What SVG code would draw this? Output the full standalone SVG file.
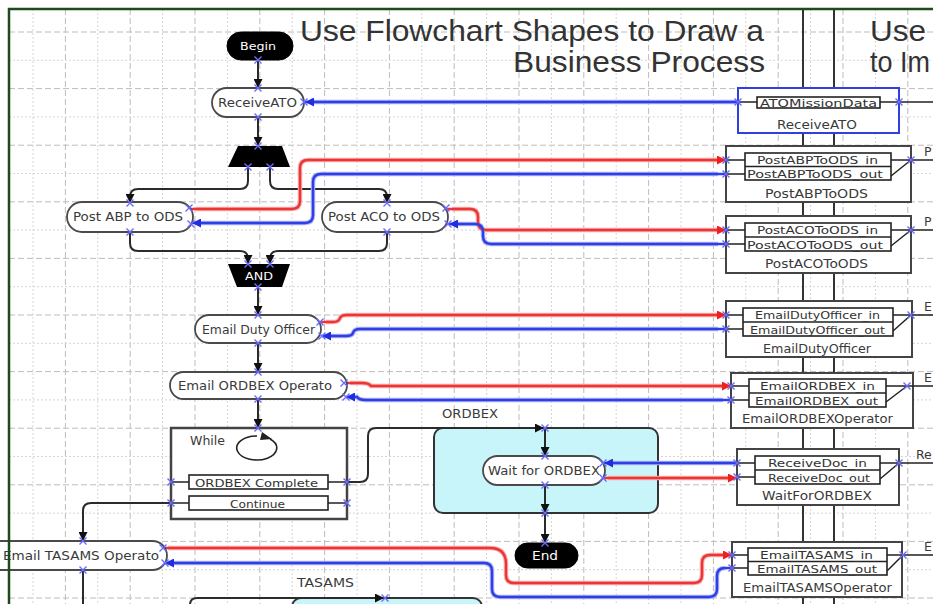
<svg xmlns="http://www.w3.org/2000/svg" xmlns:xlink="http://www.w3.org/1999/xlink" width="933" height="604" viewBox="0 0 933 604">
<style>
.gmaj{stroke:#bdbdbd;stroke-width:1;stroke-dasharray:6 3;fill:none}
.gmin{stroke:#d6d6d6;stroke-width:1;stroke-dasharray:2 2;fill:none}
.pill{fill:#fff;stroke:#4a4a4a;stroke-width:1.8}
.term{fill:#000;stroke:#000}
.t{font-family:"DejaVu Sans","Liberation Sans",sans-serif;font-size:12.5px;fill:#3a3a3a}
.tw{font-family:"DejaVu Sans","Liberation Sans",sans-serif;font-size:11px;fill:#fff}
.ts{font-family:"DejaVu Sans","Liberation Sans",sans-serif;font-size:11px;fill:#333}
.title{font-family:"Liberation Sans",Arial,sans-serif;font-size:30px;fill:#333}
.box{fill:#fff;stroke:#444;stroke-width:2}
.inner{fill:#fff;stroke:#222;stroke-width:1.6}
.wire{fill:none;stroke:#222;stroke-width:1.5}
.con{fill:none;stroke:#2b2b2b;stroke-width:2}
.red{fill:none;stroke:#ee3535;stroke-width:2.4}
.blue{fill:none;stroke:#2e3fe6;stroke-width:2.4}
.halo-r{fill:none;stroke:#f7b0b0;stroke-width:4.5}
.halo-b{fill:none;stroke:#b0b6f5;stroke-width:4.5}
.lane{stroke:#333;stroke-width:2}
</style>
<defs>
<marker id="ab" viewBox="0 0 10 10" refX="10" refY="5" markerWidth="9" markerHeight="9" markerUnits="userSpaceOnUse" orient="auto"><path d="M0,0 L10,5 L0,10 z" fill="#111"/></marker>
<marker id="ar" viewBox="0 0 10 10" refX="10" refY="5" markerWidth="10" markerHeight="9" markerUnits="userSpaceOnUse" orient="auto"><path d="M0,0 L10,5 L0,10 z" fill="#ee2020"/></marker>
<marker id="abl" viewBox="0 0 10 10" refX="10" refY="5" markerWidth="10" markerHeight="9" markerUnits="userSpaceOnUse" orient="auto"><path d="M0,0 L10,5 L0,10 z" fill="#1f2fe0"/></marker>
<g id="xm"><path d="M-3.5,-3.5 L3.5,3.5 M-3.5,3.5 L3.5,-3.5" stroke="#6b6bff" stroke-width="1.4" fill="none"/></g>
</defs>
<rect x="0" y="0" width="933" height="604" fill="#fff"/>
<g id="grid">
<path class="gmaj" d="M65.4 9V604M130.2 9V604M195 9V604M259.8 9V604M324.6 9V604M389.4 9V604M454.2 9V604M519 9V604M583.8 9V604M648.6 9V604M713.4 9V604M778.2 9V604M843 9V604M907.8 9V604M9 32H933M9 88.6H933M9 145.2H933M9 201.8H933M9 258.4H933M9 315H933M9 371.6H933M9 428.2H933M9 484.8H933M9 541.4H933M9 598H933"/>
<path class="gmin" d="M33 9V604M97.8 9V604M162.6 9V604M227.4 9V604M292.2 9V604M357 9V604M421.8 9V604M486.6 9V604M551.4 9V604M616.2 9V604M681 9V604M745.8 9V604M810.6 9V604M875.4 9V604M9 60.3H933M9 116.9H933M9 173.5H933M9 230.1H933M9 286.7H933M9 343.3H933M9 399.9H933M9 456.5H933M9 513.1H933M9 569.7H933"/>
</g>
<g id="lanes">
<line class="lane" x1="803" y1="9" x2="803" y2="604"/>
<line class="lane" x1="834" y1="9" x2="834" y2="604"/>
</g>
<g id="titles">
<text class="title" x="300" y="41" textLength="464" lengthAdjust="spacingAndGlyphs">Use Flowchart Shapes to Draw a</text>
<text class="title" x="513" y="72" textLength="252" lengthAdjust="spacingAndGlyphs">Business Process</text>
<text class="title" x="870" y="41" textLength="56" lengthAdjust="spacingAndGlyphs">Use</text>
<text class="title" x="870" y="72" textLength="60" lengthAdjust="spacingAndGlyphs">to Im</text>
</g>
<g id="node-cyan-ordbex"><rect x="434" y="428" width="224" height="85" rx="9" fill="#c8f5fa" stroke="#333" stroke-width="2"/></g>
<g id="node-cyan-tasams"><rect x="292" y="598" width="190" height="30" rx="9" fill="#c8f5fa" stroke="#333" stroke-width="2"/></g>
<g id="connectors">
<path class="con" d="M258 60V88" marker-end="url(#ab)"/>
<path class="con" d="M258 117V146" marker-end="url(#ab)"/>
<path class="con" d="M248 167V181Q248 189 240 189H138Q130 189 130 197V203" marker-end="url(#ab)"/>
<path class="con" d="M270 167V181Q270 189 278 189H379Q387 189 387 197V203" marker-end="url(#ab)"/>
<path class="con" d="M130 232V243Q130 251 138 251H240Q248 251 248 259V264" marker-end="url(#ab)"/>
<path class="con" d="M387 232V243Q387 251 379 251H278Q270 251 270 259V264" marker-end="url(#ab)"/>
<path class="con" d="M258 287V315" marker-end="url(#ab)"/>
<path class="con" d="M258 343V372" marker-end="url(#ab)"/>
<path class="con" d="M258 399V428" marker-end="url(#ab)"/>
<path class="con" d="M347 482H360Q368 482 368 474V436Q368 428 376 428H544" marker-end="url(#ab)"/>
<path class="con" d="M545 428V456" marker-end="url(#ab)"/>
<path class="con" d="M545 485V513" marker-end="url(#ab)"/>
<path class="con" d="M545 513V543" marker-end="url(#ab)"/>
<path class="con" d="M171 503H91Q83 503 83 511V541" marker-end="url(#ab)"/>
<path class="con" d="M83 570V604"/>
<path class="con" d="M190 604V605Q190 598 197 598H384" marker-end="url(#ab)"/>
<g id="halos">
<path class="halo-b" d="M738 102H312"/>
<path class="halo-r" d="M196 209H292Q300 209 300 201V168Q300 160 308 160H718"/>
<path class="halo-b" d="M718 174H321Q313 174 313 182V215Q313 223 305 223H200"/>
<path class="halo-r" d="M452 209H470Q478 209 478 217V222Q478 230 486 230H718"/>
<path class="halo-b" d="M718 244H491Q483 244 483 236V232Q483 224 475 224H457"/>
<path class="halo-r" d="M326 322H333Q339 322 340 318Q341 315 347 315H718"/>
<path class="halo-b" d="M718 329H360Q354 329 353 333Q352 336 346 336H330"/>
<path class="halo-r" d="M350 383H362Q369 383 371 386H723"/>
<path class="halo-b" d="M723 400H366Q359 400 357 397H354"/>
<path class="halo-b" d="M737 463H612"/>
<path class="halo-r" d="M608 478H729"/>
<path class="halo-r" d="M168 548H490Q506 548 506 564V575Q506 583 514 583H694Q702 583 702 575V563Q702 555 710 555H724"/>
<path class="halo-b" d="M724 568H725Q717 568 717 576V589Q717 597 709 597H500Q492 597 492 589V571Q492 563 484 563H173"/>
</g>
<path class="blue" d="M738 102H305" marker-end="url(#abl)"/>
<path class="red" d="M190 209H292Q300 209 300 201V168Q300 160 308 160H726" marker-end="url(#ar)"/>
<path class="blue" d="M726 174H321Q313 174 313 182V215Q313 223 305 223H192" marker-end="url(#abl)"/>
<path class="red" d="M447 209H470Q478 209 478 217V222Q478 230 486 230H726" marker-end="url(#ar)"/>
<path class="blue" d="M726 244H491Q483 244 483 236V232Q483 224 475 224H449" marker-end="url(#abl)"/>
<path class="red" d="M321 322H333Q339 322 340 318Q341 315 347 315H726" marker-end="url(#ar)"/>
<path class="blue" d="M726 329H360Q354 329 353 333Q352 336 346 336H322" marker-end="url(#abl)"/>
<path class="red" d="M345 383H362Q369 383 371 386H731" marker-end="url(#ar)"/>
<path class="blue" d="M731 400H366Q359 400 357 397H346" marker-end="url(#abl)"/>
<path class="blue" d="M737 463H604" marker-end="url(#abl)"/>
<path class="red" d="M604 478H737" marker-end="url(#ar)"/>
<path class="red" d="M164 548H490Q506 548 506 564V575Q506 583 514 583H694Q702 583 702 575V563Q702 555 710 555H732" marker-end="url(#ar)"/>
<path class="blue" d="M732 568H725Q717 568 717 576V589Q717 597 709 597H500Q492 597 492 589V571Q492 563 484 563H165" marker-end="url(#abl)"/>
</g>
<g id="node-begin"><rect class="term" x="227" y="32" width="66" height="28" rx="14"/><text class="tw" x="240" y="50" textLength="36" lengthAdjust="spacingAndGlyphs">Begin</text></g>
<g id="node-receiveato"><rect class="pill" x="212" y="88" width="92" height="29" rx="14.5"/><text class="t" x="218" y="107" textLength="79" lengthAdjust="spacingAndGlyphs">ReceiveATO</text></g>
<g id="node-fork"><path d="M238 146H282L290 167H228Z" fill="#000"/></g>
<g id="node-postabp"><rect class="pill" x="67" y="202" width="126" height="30" rx="15"/><text class="t" x="73" y="221" textLength="110" lengthAdjust="spacingAndGlyphs">Post ABP to ODS</text></g>
<g id="node-postaco"><rect class="pill" x="322" y="202" width="126" height="30" rx="15"/><text class="t" x="328" y="221" textLength="112" lengthAdjust="spacingAndGlyphs">Post ACO to ODS</text></g>
<g id="node-and"><path d="M228 264H290L282 287H237Z" fill="#000"/><text class="tw" x="245" y="280" textLength="28" lengthAdjust="spacingAndGlyphs">AND</text></g>
<g id="node-emaildutyofficer"><rect class="pill" x="195" y="315" width="126" height="28" rx="14"/><text class="t" x="202" y="334" textLength="113" lengthAdjust="spacingAndGlyphs">Email Duty Officer</text></g>
<g id="node-emailordbex"><rect class="pill" x="170" y="372" width="177" height="27" rx="13.5"/><text class="t" x="178" y="390" textLength="154" lengthAdjust="spacingAndGlyphs">Email ORDBEX Operato</text></g>
<g id="node-while">
<rect x="171" y="428" width="176" height="91" fill="#fff" stroke="#444" stroke-width="2.5"/>
<text class="t" x="190" y="445" textLength="35" lengthAdjust="spacingAndGlyphs">While</text>
<path d="M270 439A20 12 0 1 1 257 436" fill="none" stroke="#222" stroke-width="1.6"/>
<path d="M262 432L272 439L260 440Z" fill="#222"/>
<line class="wire" x1="171" y1="482" x2="189" y2="482"/><line class="wire" x1="328" y1="482" x2="347" y2="482"/>
<line class="wire" x1="171" y1="503" x2="189" y2="503"/><line class="wire" x1="328" y1="503" x2="347" y2="503"/>
<rect class="inner" x="189" y="475" width="139" height="14"/>
<text class="ts" x="195" y="486.5" textLength="123" lengthAdjust="spacingAndGlyphs">ORDBEX Complete</text>
<rect class="inner" x="189" y="496" width="139" height="14"/>
<text class="ts" x="230" y="507.5" textLength="55" lengthAdjust="spacingAndGlyphs">Continue</text>
</g>
<g id="label-ordbex"><text class="t" x="442" y="418" textLength="56" lengthAdjust="spacingAndGlyphs">ORDBEX</text></g>
<g id="node-waitfor"><rect class="pill" x="483" y="456" width="122" height="29" rx="14.5"/><text class="t" x="488" y="475" textLength="112" lengthAdjust="spacingAndGlyphs">Wait for ORDBEX</text></g>
<g id="node-end"><rect class="term" x="515" y="543" width="63" height="25" rx="12.5"/><text class="tw" x="532" y="560" textLength="26" lengthAdjust="spacingAndGlyphs" style="font-size:12px">End</text></g>
<g id="node-emailtasams"><rect class="pill" x="-40" y="541" width="207" height="29" rx="14.5"/><text class="t" x="3" y="560" textLength="156" lengthAdjust="spacingAndGlyphs">Email TASAMS Operato</text></g>
<g id="label-tasams"><text class="t" x="297" y="587" textLength="57" lengthAdjust="spacingAndGlyphs">TASAMS</text></g>

<g id="bpel-receiveato">
<rect x="738" y="88" width="161" height="45" fill="#fff" stroke="#2f3fe0" stroke-width="2"/>
<line class="wire" x1="738" y1="102" x2="757" y2="102"/><line class="wire" x1="880" y1="102" x2="933" y2="102"/>
<rect class="inner" x="757" y="97" width="123" height="11"/>
<text class="ts" x="760" y="106.5" textLength="117" lengthAdjust="spacingAndGlyphs" style="font-size:10.5px">ATOMissionData</text>
<text class="t" x="777" y="129" textLength="80" lengthAdjust="spacingAndGlyphs" style="font-size:12px">ReceiveATO</text>
</g>
<g id="bpel-postabp">
<rect class="box" x="726" y="146" width="185" height="56"/>
<path class="wire" d="M726 160H745M726 174H745M891 160H933M891 176L911 160"/>
<rect class="inner" x="745" y="153" width="146" height="27"/><line class="wire" x1="745" y1="166.5" x2="891" y2="166.5"/>
<text class="ts" x="757" y="164" textLength="121" lengthAdjust="spacingAndGlyphs">PostABPToODS_in</text>
<text class="ts" x="747" y="178" textLength="136" lengthAdjust="spacingAndGlyphs">PostABPToODS_out</text>
<text class="t" x="765" y="198" textLength="103" lengthAdjust="spacingAndGlyphs" style="font-size:12px">PostABPToODS</text>
</g>
<g id="bpel-postaco">
<rect class="box" x="726" y="216" width="185" height="57"/>
<path class="wire" d="M726 230H745M726 244H745M891 230H933M891 246L911 230"/>
<rect class="inner" x="745" y="223" width="146" height="28"/><line class="wire" x1="745" y1="237" x2="891" y2="237"/>
<text class="ts" x="757" y="234" textLength="121" lengthAdjust="spacingAndGlyphs">PostACOToODS_in</text>
<text class="ts" x="747" y="248.5" textLength="136" lengthAdjust="spacingAndGlyphs">PostACOToODS_out</text>
<text class="t" x="765" y="268" textLength="103" lengthAdjust="spacingAndGlyphs" style="font-size:12px">PostACOToODS</text>
</g>
<g id="bpel-emailduty">
<rect class="box" x="726" y="301" width="186" height="56"/>
<path class="wire" d="M726 315H743M726 329H743M893 315H933M893 331L911 315"/>
<rect class="inner" x="743" y="308" width="150" height="28"/><line class="wire" x1="743" y1="322" x2="893" y2="322"/>
<text class="ts" x="755" y="319" textLength="125" lengthAdjust="spacingAndGlyphs">EmailDutyOfficer_in</text>
<text class="ts" x="750" y="333.5" textLength="135" lengthAdjust="spacingAndGlyphs">EmailDutyOfficer_out</text>
<text class="t" x="763" y="353" textLength="108" lengthAdjust="spacingAndGlyphs" style="font-size:12px">EmailDutyOfficer</text>
</g>
<g id="bpel-emailordbex">
<rect class="box" x="731" y="373" width="182" height="55"/>
<path class="wire" d="M731 386H749M731 400H749M886 386H933M886 402L907 386"/>
<rect class="inner" x="749" y="379" width="137" height="28"/><line class="wire" x1="749" y1="393" x2="886" y2="393"/>
<text class="ts" x="760" y="390" textLength="115" lengthAdjust="spacingAndGlyphs">EmailORDBEX_in</text>
<text class="ts" x="755" y="404.5" textLength="123" lengthAdjust="spacingAndGlyphs">EmailORDBEX_out</text>
<text class="t" x="742" y="423" textLength="151" lengthAdjust="spacingAndGlyphs" style="font-size:12px">EmailORDBEXOperator</text>
</g>
<g id="bpel-waitfor">
<rect class="box" x="737" y="449" width="162" height="56"/>
<path class="wire" d="M737 463H755M737 477H755M880 463H933M880 479L899 463"/>
<rect class="inner" x="755" y="456" width="125" height="28"/><line class="wire" x1="755" y1="470" x2="880" y2="470"/>
<text class="ts" x="768" y="467" textLength="99" lengthAdjust="spacingAndGlyphs">ReceiveDoc_in</text>
<text class="ts" x="768" y="481.5" textLength="102" lengthAdjust="spacingAndGlyphs">ReceiveDoc_out</text>
<text class="t" x="762" y="500" textLength="110" lengthAdjust="spacingAndGlyphs" style="font-size:12px">WaitForORDBEX</text>
</g>
<g id="bpel-emailtasams">
<rect class="box" x="732" y="542" width="170" height="55"/>
<path class="wire" d="M732 555H748M732 568H748M887 555H933M887 571L903 555"/>
<rect class="inner" x="748" y="548" width="139" height="27"/><line class="wire" x1="748" y1="561.5" x2="887" y2="561.5"/>
<text class="ts" x="760" y="559" textLength="113" lengthAdjust="spacingAndGlyphs">EmailTASAMS_in</text>
<text class="ts" x="757" y="572.5" textLength="120" lengthAdjust="spacingAndGlyphs">EmailTASAMS_out</text>
<text class="t" x="743" y="592" textLength="149" lengthAdjust="spacingAndGlyphs" style="font-size:12px">EmailTASAMSOperator</text>
</g>
<g id="cut-labels">
<text class="t" x="924" y="156">P</text>
<text class="t" x="924" y="226">P</text>
<text class="t" x="924" y="311">E</text>
<text class="t" x="924" y="382">E</text>
<text class="t" x="916" y="459">Re</text>
<text class="t" x="924" y="551">E</text>
</g>
<g id="ports">
<use xlink:href="#xm" x="258" y="60"/><use xlink:href="#xm" x="258" y="88"/><use xlink:href="#xm" x="258" y="117"/><use xlink:href="#xm" x="304" y="102"/>
<use xlink:href="#xm" x="258" y="146"/><use xlink:href="#xm" x="248" y="167"/><use xlink:href="#xm" x="270" y="167"/>
<use xlink:href="#xm" x="130" y="203"/><use xlink:href="#xm" x="130" y="232"/><use xlink:href="#xm" x="189" y="208"/><use xlink:href="#xm" x="191" y="224"/>
<use xlink:href="#xm" x="387" y="203"/><use xlink:href="#xm" x="387" y="232"/><use xlink:href="#xm" x="446" y="208"/><use xlink:href="#xm" x="448" y="224"/>
<use xlink:href="#xm" x="248" y="264"/><use xlink:href="#xm" x="270" y="264"/><use xlink:href="#xm" x="258" y="287"/>
<use xlink:href="#xm" x="258" y="315"/><use xlink:href="#xm" x="258" y="343"/><use xlink:href="#xm" x="320" y="322"/><use xlink:href="#xm" x="322" y="336"/>
<use xlink:href="#xm" x="258" y="372"/><use xlink:href="#xm" x="258" y="399"/><use xlink:href="#xm" x="344" y="383"/><use xlink:href="#xm" x="346" y="397"/>
<use xlink:href="#xm" x="258" y="428"/><use xlink:href="#xm" x="171" y="482"/><use xlink:href="#xm" x="347" y="482"/><use xlink:href="#xm" x="171" y="503"/><use xlink:href="#xm" x="347" y="503"/>
<use xlink:href="#xm" x="545" y="428"/><use xlink:href="#xm" x="545" y="456"/><use xlink:href="#xm" x="545" y="485"/><use xlink:href="#xm" x="545" y="513"/><use xlink:href="#xm" x="545" y="543"/>
<use xlink:href="#xm" x="603" y="463"/><use xlink:href="#xm" x="603" y="478"/>
<use xlink:href="#xm" x="83" y="541"/><use xlink:href="#xm" x="83" y="570"/><use xlink:href="#xm" x="163" y="548"/><use xlink:href="#xm" x="165" y="563"/>
<use xlink:href="#xm" x="385" y="598"/>
<use xlink:href="#xm" x="738" y="102"/><use xlink:href="#xm" x="899" y="102"/>
<use xlink:href="#xm" x="726" y="160"/><use xlink:href="#xm" x="726" y="174"/><use xlink:href="#xm" x="911" y="160"/>
<use xlink:href="#xm" x="726" y="230"/><use xlink:href="#xm" x="726" y="244"/><use xlink:href="#xm" x="911" y="230"/>
<use xlink:href="#xm" x="726" y="315"/><use xlink:href="#xm" x="726" y="329"/><use xlink:href="#xm" x="911" y="315"/>
<use xlink:href="#xm" x="731" y="386"/><use xlink:href="#xm" x="731" y="400"/><use xlink:href="#xm" x="907" y="386"/>
<use xlink:href="#xm" x="737" y="463"/><use xlink:href="#xm" x="737" y="477"/><use xlink:href="#xm" x="899" y="463"/>
<use xlink:href="#xm" x="732" y="555"/><use xlink:href="#xm" x="732" y="568"/><use xlink:href="#xm" x="903" y="555"/>
</g>
<rect id="frame" x="9" y="9" width="940" height="620" fill="none" stroke="#1e4a1e" stroke-width="2.5"/>
</svg>
